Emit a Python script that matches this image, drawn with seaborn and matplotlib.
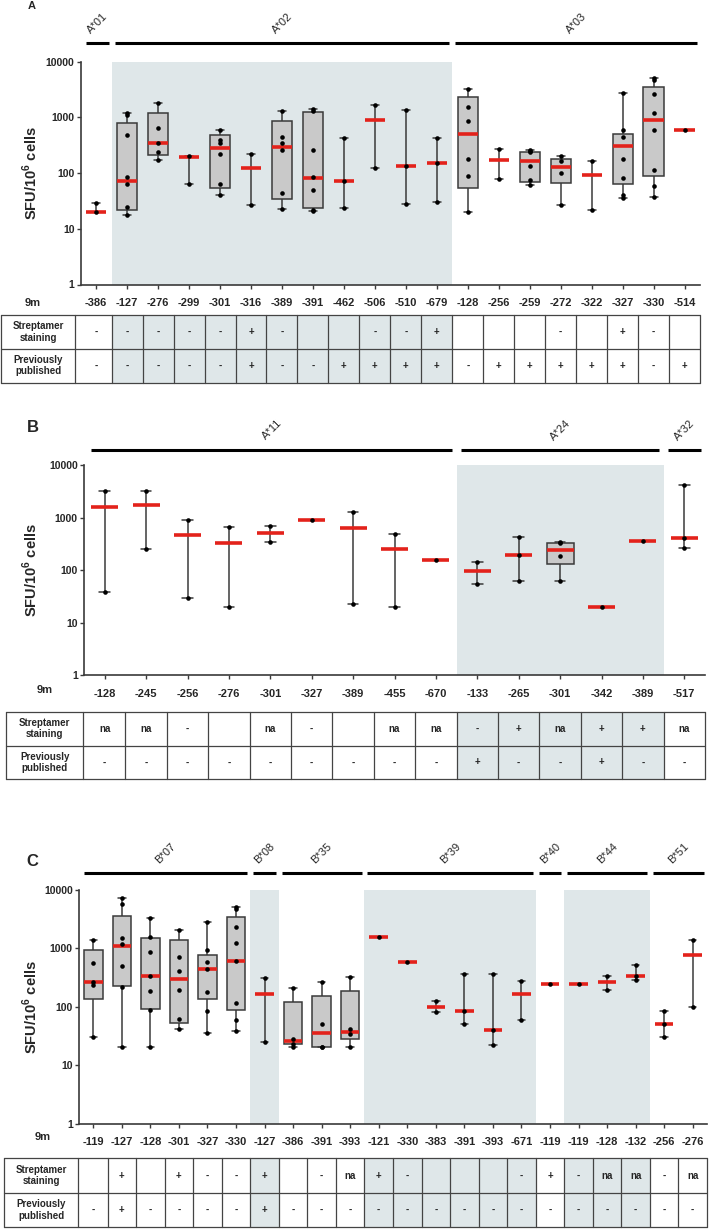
import numpy as np
import pandas as pd
import seaborn as sns
import matplotlib.pyplot as plt
from matplotlib import transforms
from matplotlib.patches import Rectangle
from matplotlib.ticker import NullLocator

# ---------------- panel A (HLA-A*01 / A*02 / A*03) ----------------
A_allele = ['A*01'] + ['A*02'] * 11 + ['A*03'] * 8
A_labels = ['-386', '-127', '-276', '-299', '-301', '-316', '-389', '-391', '-462', '-506',
            '-510', '-679', '-128', '-256', '-259', '-272', '-322', '-327', '-330', '-514']
A_lo = [20, 18, 174, 65, 41, 27, 23, 21, 24, 123, 28, 30, 20, 79, 60, 27, 22, 35, 38, 590]
A_q1 = [None, 22, 210, None, 55, None, 34, 24, None, None, None, None, 55, None, 70, 66, None, 64, 88, None]
A_med = [20, 72, 350, 196, 278, 121, 300, 82, 72, 890, 135, 149, 510, 170, 165, 130, 91, 305, 890, 590]
A_q3 = [None, 780, 1210, None, 490, None, 850, 1240, None, None, None, None, 2350, None, 240, 178, None, 510, 3500, None]
A_hi = [29, 1210, 1800, 200, 600, 220, 1280, 1440, 430, 1700, 1350, 430, 3200, 266, 262, 205, 162, 2770, 5100, 590]
A_points = [[20, 29], [18, 25, 63, 84, 480, 1100, 1210], [174, 235, 350, 650, 1800], [65, 200],
            [41, 63, 220, 340, 400, 600], [27, 220], [23, 44, 260, 350, 450, 1280],
            [21, 22, 50, 84, 260, 1300, 1440], [24, 72, 430], [123, 1700], [28, 135, 1350],
            [30, 149, 430], [20, 88, 180, 860, 1510, 3200], [79, 266], [60, 75, 134, 240, 250, 262],
            [27, 101, 162, 205], [22, 162], [35, 41, 83, 176, 445, 590, 2770],
            [38, 59, 112, 600, 1200, 2600, 4700, 5100], [590]]
A_strep = ['-', '-', '-', '-', '-', '+', '-', '', '', '-', '-', '+', '', '', '', '-', '', '+', '-', '']
A_pub = ['-', '-', '-', '-', '-', '+', '-', '-', '+', '+', '+', '+', '-', '+', '+', '+', '+', '+', '-', '+']
A_shaded = ['A*02']

# ---------------- panel B (HLA-A*11 / A*24 / A*32) ----------------
B_allele = ['A*11'] * 9 + ['A*24'] * 5 + ['A*32']
B_labels = ['-128', '-245', '-256', '-276', '-301', '-327', '-389', '-455', '-670',
            '-133', '-265', '-301', '-342', '-389', '-517']
B_lo = [38, 250, 30, 20, 340, 900, 23, 20, 156, 54, 62, 62, 20, 364, 260]
B_q1 = [None] * 11 + [129] + [None] * 3
B_med = [1590, 1700, 460, 333, 510, 900, 635, 250, 156, 98, 197, 246, 20, 364, 415]
B_q3 = [None] * 11 + [324] + [None] * 3
B_hi = [3250, 3250, 900, 650, 680, 900, 1260, 480, 156, 143, 435, 348, 20, 364, 4100]
B_points = [[38, 3250], [250, 3250], [30, 900], [20, 650], [340, 680], [900], [23, 1260],
            [20, 480], [156], [54, 143], [62, 197, 435], [62, 189, 330, 348], [20], [364],
            [260, 415, 4100]]
B_strep = ['na', 'na', '-', '', 'na', '-', '', 'na', 'na', '-', '+', 'na', '+', '+', 'na']
B_pub = ['-', '-', '-', '-', '-', '-', '-', '-', '-', '+', '-', '-', '+', '-', '-']
B_shaded = ['A*24']

# ---------------- panel C (HLA-B alleles) ----------------
C_allele = (['B*07'] * 6 + ['B*08'] + ['B*35'] * 3 + ['B*39'] * 6 + ['B*40']
            + ['B*44'] * 3 + ['B*51'] * 2)
C_labels = ['-119', '-127', '-128', '-301', '-327', '-330', '-127', '-386', '-391', '-393',
            '-121', '-330', '-383', '-391', '-393', '-671', '-119', '-119', '-128', '-132',
            '-256', '-276']
C_lo = [30, 20, 20, 42, 36, 39, 25, 20, 20, 20, 1560, 590, 80, 51, 22, 59, 243, 240, 192, 280, 30, 100]
C_q1 = [134, 225, 92, 53, 134, 88, None, 22.5, 20.5, 28] + [None] * 12
C_med = [260, 1100, 330, 295, 435, 600, 166, 26, 35, 37, 1560, 590, 100, 84, 40, 166, 243, 240,
         260, 337, 50, 750]
C_q3 = [940, 3530, 1520, 1370, 750, 3400, None, 118, 153, 182] + [None] * 12
C_hi = [1370, 7200, 3300, 2050, 2790, 5100, 310, 210, 265, 323, 1560, 590, 124, 359, 364, 277,
        243, 240, 333, 519, 83, 1390]
C_points = [[30, 232, 260, 550, 1370], [20, 213, 490, 1180, 1480, 5650, 7200],
            [20, 89, 182, 330, 870, 1560, 3300], [42, 61, 189, 410, 705, 2050],
            [36, 85, 179, 435, 590, 930, 2790], [39, 59, 113, 600, 1230, 2330, 4700, 5100],
            [25, 310], [20, 22.5, 28, 210], [20, 20.5, 51, 265], [20, 34, 42, 323],
            [1560], [590], [80, 124], [51, 84, 359], [22, 40, 364], [59, 277], [243], [240],
            [192, 333], [280, 337, 519], [30, 50, 83], [100, 1390]]
C_strep = ['', '+', '', '+', '-', '-', '+', '', '-', 'na', '+', '-', '', '', '', '-', '+', '-',
           'na', 'na', '-', 'na']
C_pub = ['-', '+', '-', '-', '-', '-', '+', '-', '-', '-', '-', '-', '-', '-', '-', '-', '-', '-',
         '-', '-', '-', '-']
C_shaded = ['B*08', 'B*39', 'B*44']

# ---------------- style ----------------
sns.set_style('ticks')
plt.rcParams['font.family'] = ['Liberation Sans', 'DejaVu Sans']
plt.rcParams['mathtext.fontset'] = 'custom'
plt.rcParams['mathtext.bf'] = 'Liberation Sans:bold'
plt.rcParams['mathtext.rm'] = 'Liberation Sans'

RED = '#e3221b'
BOX = '#c9c9c9'
LINE = '#3a3a3a'
SHADE = '#dfe7e9'

W, H = 709, 1229
fig = plt.figure(figsize=(W / 100, H / 100), dpi=100)


def px_axes(x0, y0, x1, y1):
    return fig.add_axes([x0 / W, 1 - y1 / H, (x1 - x0) / W, (y1 - y0) / H])


def runs(seq):
    out = []
    start = 0
    for i in range(1, len(seq) + 1):
        if i == len(seq) or seq[i] != seq[start]:
            out.append((seq[start], start, i - 1))
            start = i
    return out


def summary_frame(keys, lo, q1, med, q3, hi):
    # five numbers per epitope -> seaborn recovers exactly these as min/q1/median/q3/max
    rows = []
    for k, a, b, m, c, d in zip(keys, lo, q1, med, q3, hi):
        b = m if b is None else b
        c = m if c is None else c
        for v in (a, b, m, c, d):
            rows.append((k, v))
    return pd.DataFrame(rows, columns=['key', 'value'])


def draw_panel(letter, letter_xy, letter_size, allele, labels, lo, q1, med, q3, hi, points,
               strep, pub, shaded, ax_px, header_y, table_px, lab_right, ninem_xy):
    n = len(labels)
    keys = [f'{a} {l} {i}' for i, (a, l) in enumerate(zip(allele, labels))]
    x0, y0, x1, y1 = ax_px
    ax = px_axes(x0, y0, x1, y1)
    ax.set_yscale('log')

    # shaded allele blocks
    for name, first, last in runs(allele):
        if name in shaded:
            ax.axvspan(first - 0.5, last + 0.5, color=SHADE, lw=0, zorder=0)

    box_df = summary_frame(keys, lo, q1, med, q3, hi)
    sns.boxplot(data=box_df, x='key', y='value', order=keys, whis=(0, 100), width=0.65,
                color=BOX, linecolor=LINE, linewidth=1.1, showfliers=False, capwidths=0.26,
                medianprops=dict(color=RED, linewidth=2.6, solid_capstyle='butt', zorder=5),
                ax=ax)

    pt_df = pd.DataFrame([(k, v) for k, vals in zip(keys, points) for v in vals],
                         columns=['key', 'value'])
    sns.stripplot(data=pt_df, x='key', y='value', order=keys, jitter=False, color='black',
                  size=3.3, ax=ax, zorder=6)

    ax.set_xlim(-0.5, n - 0.5)
    ax.set_ylim(1, 10000)
    ax.set_xticks(range(n))
    ax.set_xticklabels(labels, fontsize=8, fontweight='bold')
    ax.set_yticks([1, 10, 100, 1000, 10000])
    ax.set_yticklabels(['1', '10', '100', '1000', '10000'], fontsize=7.5, fontweight='bold')
    ax.yaxis.set_minor_locator(NullLocator())
    ax.set_xlabel('')
    ax.set_ylabel('SFU/10$^{\\mathbf{6}}$ cells', fontsize=10.5, fontweight='bold')
    ax.yaxis.set_label_coords((40 - x0) / (x1 - x0), 0.5)
    sns.despine(ax=ax)
    for s in ('left', 'bottom'):
        ax.spines[s].set_color(LINE)
        ax.spines[s].set_linewidth(1.2)
    ax.tick_params(axis='x', length=3, width=1, pad=7, color=LINE)
    ax.tick_params(axis='y', length=3, width=1, pad=1.5, color=LINE)

    # allele header bars
    trans = transforms.blended_transform_factory(ax.transData, fig.transFigure)
    g = 0.1
    for name, first, last in runs(allele):
        s = max(first - 0.5 + g, -0.5 + 0.17)
        e = min(last + 0.5 - g, n - 0.5)
        ax.plot([s, e], [1 - header_y / H] * 2, transform=trans, color='black', lw=2.2,
                clip_on=False, solid_capstyle='butt')
        ax.text((s + e) / 2, 1 - (header_y - 20) / H, name, rotation=45, ha='center',
                va='center', fontsize=8, transform=trans)

    fig.text(letter_xy[0] / W, 1 - letter_xy[1] / H, letter, fontsize=letter_size,
             fontweight='bold', ha='center', va='center')
    fig.text(ninem_xy[0] / W, 1 - ninem_xy[1] / H, '9m', fontsize=8, fontweight='bold',
             ha='center', va='center')

    # table below the axis
    tx0, ty0, tx1, ty1 = table_px
    tax = px_axes(tx0, ty0, tx1, ty1)
    ppu = (x1 - x0) / n
    left = -0.5 - (x0 - tx0) / ppu
    tax.set_xlim(left, n - 0.5)
    tax.set_ylim(2, 0)
    tax.axis('off')
    lab_r = -0.5 - (x0 - lab_right) / ppu
    edges = [lab_r] + [i + 0.5 for i in range(n - 1)] + [n - 0.5]
    for name, first, last in runs(allele):
        if name in shaded:
            tax.add_patch(Rectangle((edges[first], 0), edges[last + 1] - edges[first], 2,
                                    color=SHADE, lw=0, zorder=0))
    kw = dict(color='#444444', lw=0.9, clip_on=False, zorder=3)
    for yy in (0, 1, 2):
        tax.plot([left, n - 0.5], [yy, yy], **kw)
    for xx in [left] + edges:
        tax.plot([xx, xx], [0, 2], **kw)
    mid = (left + lab_r) / 2
    tax.text(mid, 0.5, 'Streptamer\nstaining', ha='center', va='center', fontsize=7,
             fontweight='bold', linespacing=1.15)
    tax.text(mid, 1.5, 'Previously\npublished', ha='center', va='center', fontsize=7,
             fontweight='bold', linespacing=1.15)
    for i in range(n):
        tax.text(i, 0.5, strep[i], ha='center', va='center', fontsize=7, fontweight='bold')
        tax.text(i, 1.5, pub[i], ha='center', va='center', fontsize=7, fontweight='bold')
    return ax


draw_panel('A', (32, 6), 8, A_allele, A_labels, A_lo, A_q1, A_med, A_q3, A_hi, A_points,
           A_strep, A_pub, A_shaded, (80.7, 61.7, 700, 284.5), 43.3,
           (0.7, 315, 700, 382.7), 75.3, (33, 303))
draw_panel('B', (33, 427), 12, B_allele, B_labels, B_lo, B_q1, B_med, B_q3, B_hi, B_points,
           B_strep, B_pub, B_shaded, (84, 465, 705, 675.3), 450,
           (6, 711.7, 705, 779.3), 83.3, (45, 690))
draw_panel('C', (32, 862), 12, C_allele, C_labels, C_lo, C_q1, C_med, C_q3, C_hi, C_points,
           C_strep, C_pub, C_shaded, (79, 889.7, 707, 1123.5), 873.3,
           (4, 1158.3, 707, 1227.3), 78.3, (43, 1137))

fig.savefig('out.png', dpi=100, facecolor='white')
